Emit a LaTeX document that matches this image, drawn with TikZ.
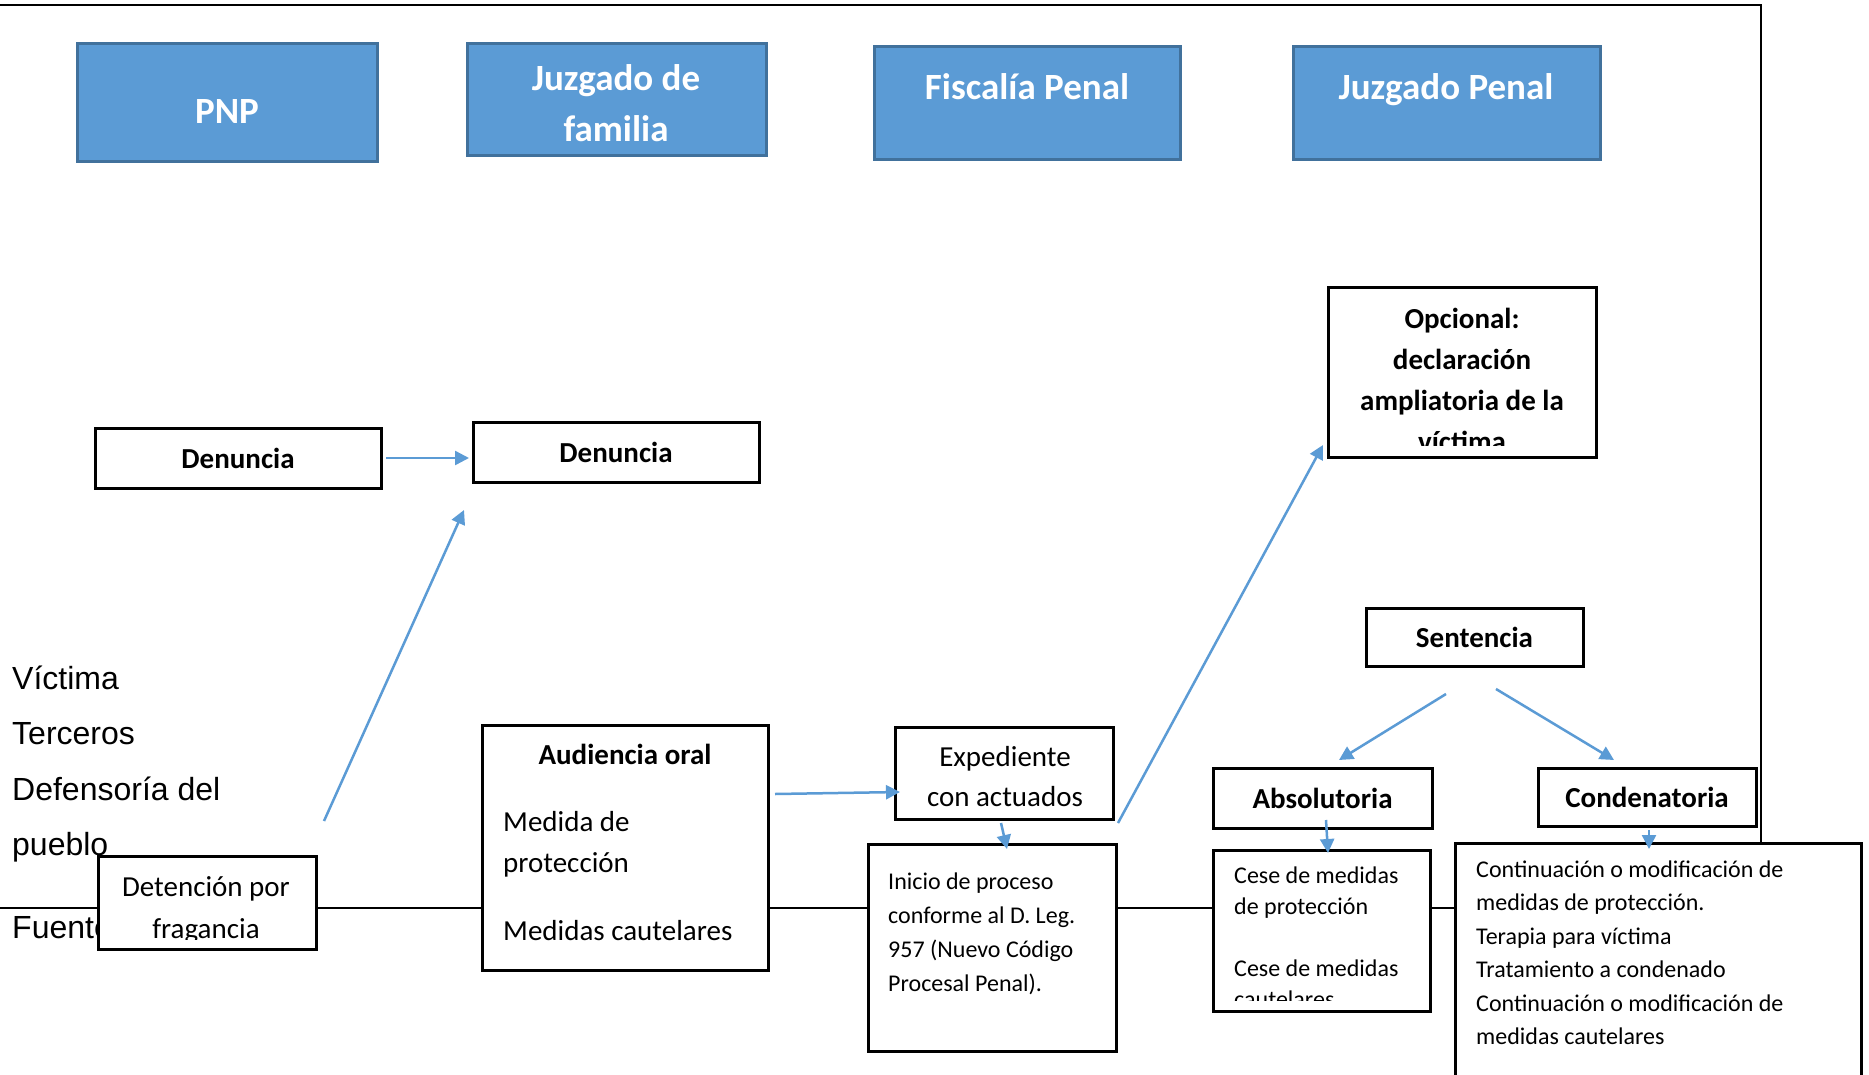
\documentclass[tikz,border=0pt]{standalone}
\usepackage{fontspec}
\setmainfont{Carlito}
\newfontfamily\arialf{Liberation Sans}
\usetikzlibrary{arrows.meta,calc}
\definecolor{hblue}{HTML}{5B9BD5}
\definecolor{hedge}{HTML}{41719C}
\definecolor{arrblue}{HTML}{5B9BD5}
\begin{document}
\begin{tikzpicture}[x=1pt,y=-1pt,
  box/.style={draw=black, line width=3pt, fill=white, inner sep=0pt, outer sep=0pt},
  hbox/.style={draw=hedge, line width=3pt, fill=hblue, inner sep=0pt, outer sep=0pt},
  htext/.style={text=white, font=\fontsize{37}{51}\selectfont\bfseries, align=center, anchor=base, inner sep=0pt},
  bbox/.style={box, font=\fontsize{29}{41}\selectfont\bfseries},
  btext/.style={font=\fontsize{29}{41}\selectfont\bfseries, align=center, anchor=base, inner sep=0pt},
  rtext/.style={font=\fontsize{29}{41}\selectfont, align=left, anchor=base west, inner sep=0pt},
  ctext/.style={font=\fontsize{29}{40}\selectfont, align=center, anchor=base, inner sep=0pt},
  stext/.style={align=left, anchor=base west, inner sep=0pt},
  ltext/.style={font=\arialf\fontsize{32}{55.5}\selectfont, align=left, anchor=base west, inner sep=0pt},
  arr/.style={draw=arrblue, line width=2.5pt, -{Triangle[length=14pt,width=14pt]}},
  frame/.style={draw=black, line width=2.5pt}]
\clip (0,0) rectangle (1869,1074);
\fill[white] (0,0) rectangle (1869,1074);
% frame lines
\draw[frame] (0,5) -- (1761,5) -- (1761,843);
\draw[frame] (0,908) -- (1455,908);
% left list (base anchor = last line baseline)
\node[ltext] (fuentes) at (12,855.5) {Víctima\\Terceros\\Defensoría del\\pueblo};
\node[ltext] (fuente) at (12,938) {Fuente};
% header boxes
\node[hbox, minimum width=300pt, minimum height=118pt] (pnp) at (227,102) {};
\node[htext] (pnpT) at (227,123) {PNP};
\node[hbox, minimum width=299pt, minimum height=112pt] (jfam) at (616.5,99) {};
\node[htext] (jfamT) at (616,141) {Juzgado de\\familia};
\node[hbox, minimum width=306pt, minimum height=113pt] (fisc) at (1027,102.5) {};
\node[htext] (fiscT) at (1027,99) {Fiscalía Penal};
\node[hbox, minimum width=307pt, minimum height=113pt] (jpen) at (1446.5,102.5) {};
\node[htext] (jpenT) at (1446,99) {Juzgado Penal};
% Opcional
\node[box, minimum width=268pt, minimum height=170pt] (op) at (1462,372) {};
\begin{scope}
\clip (op.north west) rectangle ([yshift=12pt]op.south east);
\node[btext] (opT) at (1462,451) {Opcional:\\declaración\\ampliatoria de la\\víctima};
\end{scope}
% Denuncias
\node[bbox, minimum width=286pt, minimum height=60pt] (den1) at (238,458) {Denuncia};
\node[bbox, minimum width=286pt, minimum height=60pt] (den2) at (616,452) {Denuncia};
% Detencion
\node[box, minimum width=218pt, minimum height=93pt] (det) at (207,902.5) {};
\begin{scope}
\clip (det.north west) rectangle ([yshift=10pt]det.south east);
\node[ctext, font=\fontsize{29}{42}\selectfont] (detT) at (206,938) {Detención por\\fragancia};
\end{scope}
% Audiencia
\node[box, minimum width=286pt, minimum height=245pt] (aud) at (625,847.5) {};
\node[btext] (audT) at (625,764) {Audiencia oral};
\node[rtext] (audM) at (503,872) {Medida de\\protección};
\node[rtext] (audC) at (503,940) {Medidas cautelares};
% Expediente
\node[box, minimum width=218pt, minimum height=92pt] (exp) at (1004,773) {};
\node[ctext] (expT) at (1005,806) {Expediente\\con actuados};
% Inicio
\node[box, minimum width=248pt, minimum height=207pt] (ini) at (992,947.5) {};
\node[stext, font=\fontsize{24}{34}\selectfont] (iniT) at (888,991) {Inicio de proceso\\conforme al D. Leg.\\957 (Nuevo Código\\Procesal Penal).};
% Sentencia and outcomes
\node[bbox, minimum width=217pt, minimum height=58pt] (sen) at (1474.5,637) {Sentencia};
\node[bbox, minimum width=219pt, minimum height=60pt] (abs) at (1322.5,798) {Absolutoria};
\node[bbox, minimum width=218pt, minimum height=58pt] (con) at (1647,797) {Condenatoria};
% Cese
\node[box, minimum width=217pt, minimum height=161pt] (cese) at (1321.5,930.5) {};
\begin{scope}
\clip (cese.north west) rectangle ([yshift=11pt]cese.south east);
\node[stext, font=\fontsize{24}{31}\selectfont] (ceseT) at (1234,1007) {Cese de medidas\\de protección\\[31pt]Cese de medidas\\cautelares};
\end{scope}
% Continuation
\node[box, minimum width=406pt, minimum height=267pt] (cont) at (1658,976.5) {};
\node[stext, font=\fontsize{24}{33.5}\selectfont] (contT) at (1476,1044.5) {Continuación o modificación de\\medidas de protección.\\Terapia para víctima\\Tratamiento a condenado\\Continuación o modificación de\\medidas cautelares};
% connectors
\draw[arr, shorten <=5pt, shorten >=4pt] (den1.east) -- (den1.east -| den2.west);
\draw[arr] ([shift={(8,-35)}]det.north east) -- ([shift={(-9,28)}]den2.south west);
\draw[arr] ([shift={(7,-53.5)}]aud.east) -- ([shift={(5,19)}]exp.west);
\draw[arr] ([shift={(-3,4)}]exp.south) -- ([shift={(15,5)}]ini.north);
\draw[arr] ([shift={(5,4)}]exp.south east) -- ([shift={(-5,-12)}]op.south west);
\draw[arr] ([shift={(-28.5,28)}]sen.south) -- ([shift={(16.5,-8)}]abs.north);
\draw[arr] ([shift={(21.5,23)}]sen.south) -- ([shift={(-33,-8)}]con.north);
\draw[arr] ([shift={(3.5,-8)}]abs.south) -- ([shift={(6.5,3)}]cese.north);
\draw[arr] ([shift={(2,4)}]con.south) -- ([shift={(-9,6)}]cont.north);
\end{tikzpicture}
\end{document}
